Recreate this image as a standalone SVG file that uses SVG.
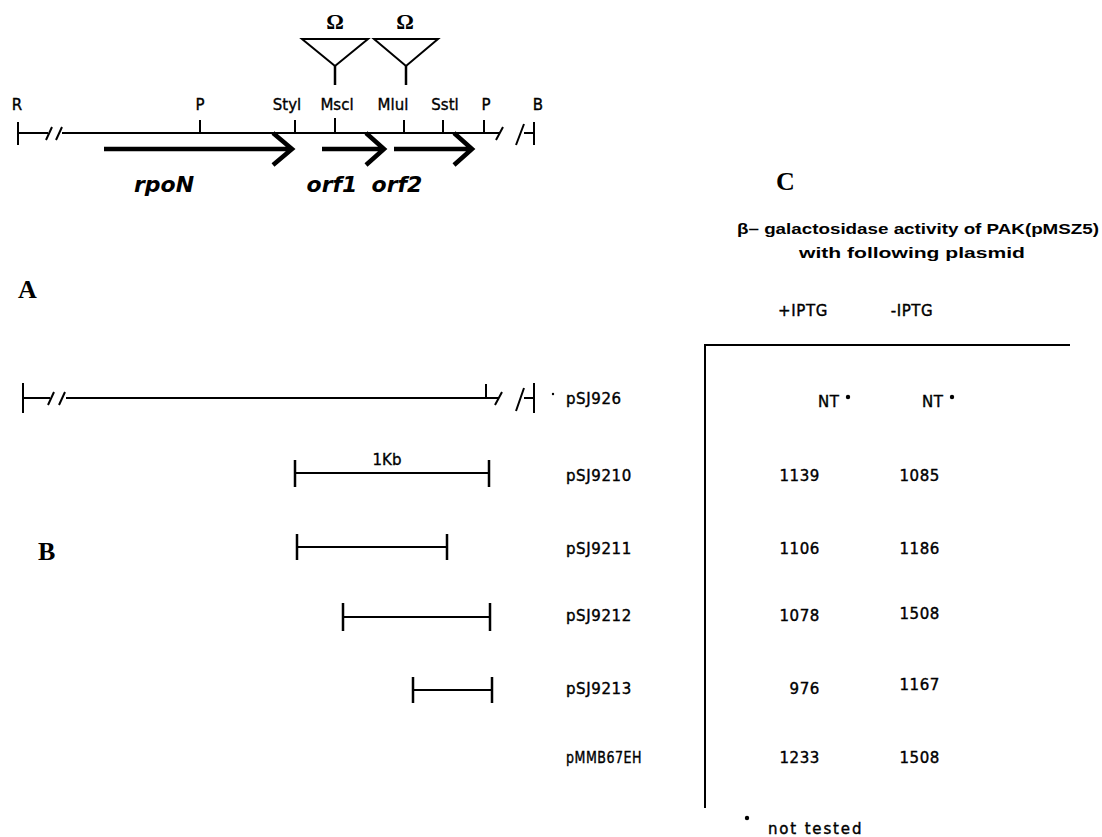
<svg xmlns="http://www.w3.org/2000/svg" width="1102" height="837" viewBox="0 0 1102 837">
  <style>
    .ln { stroke: #000; stroke-width: 2; fill: none; stroke-linecap: butt; }
    .tk { stroke: #000; stroke-width: 2.5; fill: none; }
    .arr { stroke: #000; stroke-width: 4.5; fill: none; stroke-linecap: butt; stroke-linejoin: miter; }
    .site { font-family: "DejaVu Sans", "Liberation Sans", sans-serif; font-size: 15px; fill: #000; stroke: #000; stroke-width: 0.35; text-anchor: middle; }
    .gene { font-family: "DejaVu Sans", "Liberation Sans", sans-serif; font-size: 22px; font-style: italic; font-weight: bold; fill: #000; text-anchor: middle; }
    .panel { font-family: "Liberation Serif", serif; font-size: 26px; font-weight: bold; fill: #000; }
    .omega { font-family: "Liberation Serif", serif; font-size: 22px; font-weight: bold; fill: #000; text-anchor: middle; }
    .tbl { font-family: "DejaVu Sans", "Liberation Sans", sans-serif; font-size: 15px; fill: #000; stroke: #000; stroke-width: 0.4; letter-spacing: 0.6px; }
    .hdr { font-family: "Liberation Sans", sans-serif; font-size: 15px; font-weight: bold; fill: #000; text-anchor: middle; }
  </style>

  <!-- Panel A: restriction map of the rpoN region -->
  <g id="map-A">
    <!-- backbone with break marks -->
    <path class="ln" d="M18,122 V145 M18,133 H48 M62,133 H500 M534,122 V145 M524,133 H534"/>
    <path class="ln" d="M46,140 L52,127 M56,140 L62,127 M496,140 L503,127 M516,145 L524,124"/>
    <!-- site ticks -->
    <path class="ln" d="M200,120 V133 M295,120 V133 M335,118 V133 M404,120 V133 M443,120 V133 M484,120 V133"/>
    <text class="site" x="17" y="110">R</text>
    <text class="site" x="200" y="110">P</text>
    <text class="site" x="287" y="110">Styl</text>
    <text class="site" x="337" y="110">Mscl</text>
    <text class="site" x="393" y="110">Mlul</text>
    <text class="site" x="445" y="110">Sstl</text>
    <text class="site" x="486" y="110">P</text>
    <text class="site" x="538" y="110">B</text>
  </g>

  <!-- Omega insertions -->
  <g id="omega-MscI">
    <text class="omega" x="335" y="29">Ω</text>
    <path class="ln" d="M302,39 H368 L335,66 Z"/>
    <path class="tk" stroke-width="3.5" d="M335,66 V85"/>
  </g>
  <g id="omega-MluI">
    <text class="omega" x="405" y="29">Ω</text>
    <path class="ln" d="M374,39 H438 L406,66 Z"/>
    <path class="tk" stroke-width="3.5" d="M406,66 V85"/>
  </g>

  <!-- Gene arrows -->
  <g id="gene-rpoN">
    <path class="arr" d="M104,149 H292 M273,133 L292,149 L273,165"/>
    <text class="gene" x="164" y="192">rpoN</text>
  </g>
  <g id="gene-orf1">
    <path class="arr" d="M322,149 H384 M366,133 L384,149 L366,165"/>
    <text class="gene" x="332" y="192">orf1</text>
  </g>
  <g id="gene-orf2">
    <path class="arr" d="M394,149 H472 M454,133 L472,149 L454,165"/>
    <text class="gene" x="397" y="192">orf2</text>
  </g>

  <text class="panel" x="18" y="298">A</text>
  <text class="panel" x="38" y="560">B</text>
  <text class="panel" x="776" y="190">C</text>

  <!-- Panel B: subclone fragments -->
  <g id="frag-pSJ926">
    <path class="ln" d="M23,383 V413 M23,398 H50 M66,398 H498 M486,398 V384 M534,383 V413 M524,398 H534"/>
    <path class="ln" d="M48,405 L54,392 M59,405 L65,392 M495,405 L502,392 M516,411 L524,388"/>
    <circle cx="553" cy="394" r="1.2" fill="#000"/>
  </g>
  <g id="frag-pSJ9210">
    <path class="ln" d="M295,473 H489"/>
    <path class="tk" d="M295,460 V487 M489,460 V487"/>
    <text class="site" x="387" y="465" font-size="16">1Kb</text>
  </g>
  <g id="frag-pSJ9211">
    <path class="ln" d="M297,547 H447"/>
    <path class="tk" d="M297,534 V560 M447,534 V560"/>
  </g>
  <g id="frag-pSJ9212">
    <path class="ln" d="M343,617 H490"/>
    <path class="tk" d="M343,603 V631 M490,603 V631"/>
  </g>
  <g id="frag-pSJ9213">
    <path class="ln" d="M413,690 H492"/>
    <path class="tk" d="M413,677 V703 M492,677 V703"/>
  </g>

  <!-- Panel C: beta-galactosidase table -->
  <g id="table-C">
    <text class="hdr" x="918" y="234" textLength="362" lengthAdjust="spacingAndGlyphs">β– galactosidase  activity of PAK(pMSZ5)</text>
    <text class="hdr" x="912" y="258" textLength="226" lengthAdjust="spacingAndGlyphs">with following plasmid</text>
    <text class="tbl" x="803" y="316" text-anchor="middle">+IPTG</text>
    <text class="tbl" x="912" y="316" text-anchor="middle">-IPTG</text>
    <path class="ln" d="M705,808 V345 H1070"/>

    <text class="tbl" x="566" y="404">pSJ926</text>
    <text class="tbl" x="566" y="481">pSJ9210</text>
    <text class="tbl" x="566" y="554">pSJ9211</text>
    <text class="tbl" x="566" y="621">pSJ9212</text>
    <text class="tbl" x="566" y="694">pSJ9213</text>
    <text class="tbl" x="566" y="763" textLength="76" lengthAdjust="spacingAndGlyphs">pMMB67EH</text>

    <text class="tbl" x="818" y="407">NT</text><circle cx="848" cy="397" r="2.2" fill="#000"/>
    <text class="tbl" x="922" y="407">NT</text><circle cx="952" cy="397" r="2.2" fill="#000"/>

    <g text-anchor="end">
      <text class="tbl" x="820" y="481">1139</text>
      <text class="tbl" x="940" y="481">1085</text>
      <text class="tbl" x="820" y="554">1106</text>
      <text class="tbl" x="940" y="554">1186</text>
      <text class="tbl" x="820" y="621">1078</text>
      <text class="tbl" x="940" y="619">1508</text>
      <text class="tbl" x="820" y="694">976</text>
      <text class="tbl" x="940" y="690">1167</text>
      <text class="tbl" x="820" y="763">1233</text>
      <text class="tbl" x="940" y="763">1508</text>
    </g>

    <circle cx="747" cy="818" r="2.2" fill="#000"/>
    <text class="tbl" x="768" y="834" textLength="94" lengthAdjust="spacing">not tested</text>
  </g>
</svg>
